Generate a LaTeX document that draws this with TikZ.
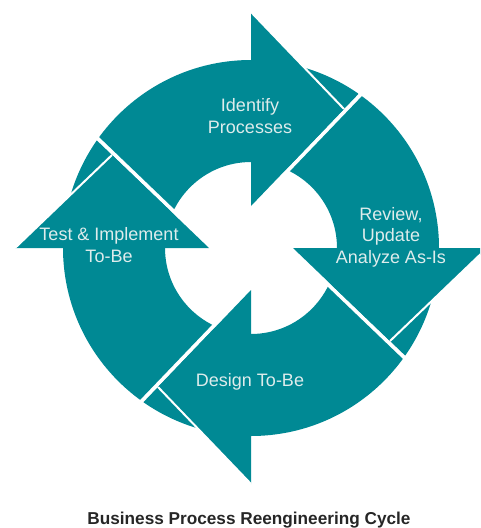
\documentclass[tikz,border=0pt]{standalone}
\usepackage{fontspec}
\setmainfont{Liberation Sans}
\definecolor{bprteal}{RGB}{0,137,148}
\definecolor{bprtext}{RGB}{222,236,236}

\begin{document}
\begin{tikzpicture}[x=1pt,y=1pt,
  ring/.style={fill=bprteal},
  cut/.style={draw=white,line width=2pt},
  phase label/.style={text=bprtext,align=center,inner sep=0pt,
    font=\fontsize{18}{21.5}\selectfont}]
  \useasboundingbox (0,0) rectangle (480,-528);
  \clip (0,0) rectangle (480,-528);

  % one quarter of the ring per pass: body, then head
  \foreach \turn in {0,-90,-180,-270} {
    \begin{scope}[shift={(251,-248)},rotate=\turn]
      \begin{scope}
        \clip (-38.3,2.05) -- ++(465,485) -- ++(-950,-20) -- cycle;
        \fill[ring,even odd rule] (0,0) circle[radius=188] (0,0) circle[radius=86];
      \end{scope}
      \fill[ring] (0,42) -- (0,236) -- (93,139) -- cycle;
      \draw[cut] (0,236) -- (93,139);
    \end{scope}
  }

  \path
  node[phase label] (identify) at (250,-116) {Identify\\Processes}
  node[phase label] (review)   at (391,-237) {Review,\\Update\\Analyze As-Is}
  node[phase label] (design)   at (250,-382) {Design To-Be}
  node[phase label] (test)     at (109,-245) {Test \& Implement\\To-Be}
  ;
  \node[inner sep=0pt,text=black!85,font=\bfseries\fontsize{17.2}{20}\selectfont]
    (caption) at (249,-520) {Business Process Reengineering Cycle};
\end{tikzpicture}
\end{document}
